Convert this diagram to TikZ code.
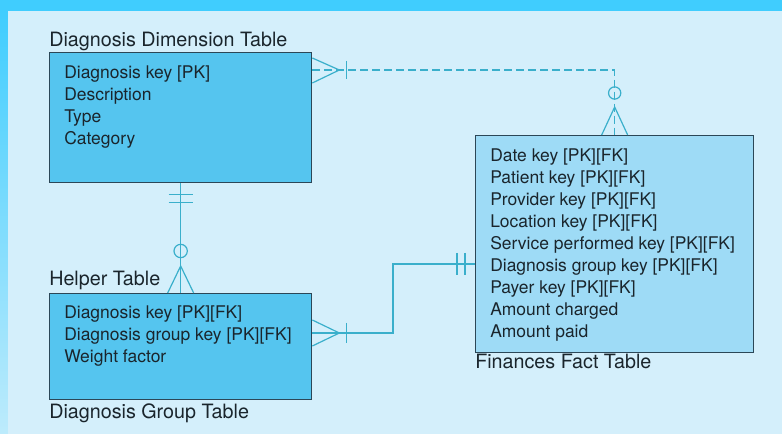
\documentclass[tikz,border=0pt]{standalone}
\usepackage{fontspec}
\setmainfont{TeX Gyre Heros}
\usetikzlibrary{calc}

\definecolor{bandcyan}{HTML}{40CDFE}
\definecolor{stripend}{HTML}{BDEBFC}
\definecolor{paper}{HTML}{D4EFFB}
\definecolor{dimfill}{HTML}{55C5EF}
\definecolor{factfill}{HTML}{9EDBF6}
\definecolor{boxline}{HTML}{2B4757}
\definecolor{relline}{HTML}{3AAFCB}
\definecolor{inktext}{HTML}{1A252C}

\tikzset{
  tablebox/.style={draw=boxline, line width=1pt, inner sep=0pt, anchor=north west},
  tabletitle/.style={anchor=base west, inner sep=0pt, text=inktext,
    font=\fontsize{14.8pt}{17pt}\selectfont},
  field/.style={anchor=base west, inner sep=0pt, text=inktext,
    font=\fontsize{13.1pt}{15pt}\selectfont},
  rel/.style={draw=relline, line width=0.9pt},
  reldash/.style={rel, dash pattern=on 6pt off 3pt},
}

\begin{document}
\begin{tikzpicture}[x=0.75pt, y=-0.75pt]
\useasboundingbox (0,0) rectangle (782,434);

% page background
\fill[bandcyan] (0,0) rectangle (782,11);
\shade[top color=bandcyan, bottom color=stripend] (0,11) rectangle (8,434);
\fill[paper] (8,11) rectangle (782,434);

% tables
\node[tablebox, fill=dimfill, minimum width=196.5pt, minimum height=97.5pt] (dim) at (49,52) {};
\node[tablebox, fill=dimfill, minimum width=196.5pt, minimum height=79.5pt] (helper) at (49,293) {};
\node[tablebox, fill=factfill, minimum width=208.5pt, minimum height=162.75pt] (fact) at (475,135) {};

% table titles
\node[tabletitle] (dimtitle) at (49,47) {Diagnosis Dimension Table};
\node[tabletitle] (helpertitle) at (49,286) {Helper Table};
\node[tabletitle] (grouptitle) at (49,419) {Diagnosis Group Table};
\node[tabletitle] (facttitle) at (475,369) {Finances Fact Table};

% fields
\foreach \t [count=\i] in {{Diagnosis key [PK]}, Description, Type, Category}
  \node[field] (dimf\i) at (64,{57+22*\i}) {\t};
\foreach \t [count=\i] in {{Diagnosis key [PK][FK]}, {Diagnosis group key [PK][FK]}, {Weight factor}}
  \node[field] (helperf\i) at (64,{297+22*\i}) {\t};
\foreach \t [count=\i] in {{Date key [PK][FK]}, {Patient key [PK][FK]}, {Provider key [PK][FK]},
    {Location key [PK][FK]}, {Service performed key [PK][FK]}, {Diagnosis group key [PK][FK]},
    {Payer key [PK][FK]}, {Amount charged}, {Amount paid}}
  \node[field] (factf\i) at (490,{140+22*\i}) {\t};

% relationship: dimension -> fact (dashed)
\coordinate (dimR) at ($(dim.north east)+(0,18)$);
\draw[reldash] (dimR) -| (fact.north);
\draw[rel] ($(dim.north east)+(0,6)$) -- ($(dimR)+(27,0)$) -- ($(dim.north east)+(0,31)$);
\draw[rel] ($(dimR)+(34,-9)$) -- ($(dimR)+(34,9)$);
\draw[rel] ($(fact.north)+(0,-42)$) circle[radius=4.6pt];
\draw[rel] ($(fact.north)+(-13,0)$) -- ($(fact.north)+(0,-28)$) -- ($(fact.north)+(13,0)$);

% relationship: dimension -> helper
\draw[rel] (dim.south) -- (helper.north);
\draw[rel] ($(dim.south)+(-12,11)$) -- ($(dim.south)+(12,11)$);
\draw[rel] ($(dim.south)+(-12,19)$) -- ($(dim.south)+(12,19)$);
\draw[rel] ($(helper.north)+(0,-42)$) circle[radius=5pt];
\draw[rel] ($(helper.north)+(-13,0)$) -- ($(helper.north)+(0,-27)$) -- ($(helper.north)+(13,0)$);

% relationship: helper -> fact
\coordinate (helperR) at ($(helper.north east)+(0,40)$);
\coordinate (factL) at ($(fact.north west)+(0,129)$);
\coordinate (jog) at (393,0);
\draw[rel] (helperR) -| (jog |- factL) -- (factL);
\draw[rel] ($(helperR)+(0,-13)$) -- ($(helperR)+(27,0)$) -- ($(helperR)+(0,13)$);
\draw[rel] ($(helperR)+(34,-10)$) -- ($(helperR)+(34,10)$);
\draw[rel] ($(factL)+(-18,-11)$) -- ($(factL)+(-18,11)$);
\draw[rel] ($(factL)+(-10,-11)$) -- ($(factL)+(-10,11)$);
\end{tikzpicture}
\end{document}
